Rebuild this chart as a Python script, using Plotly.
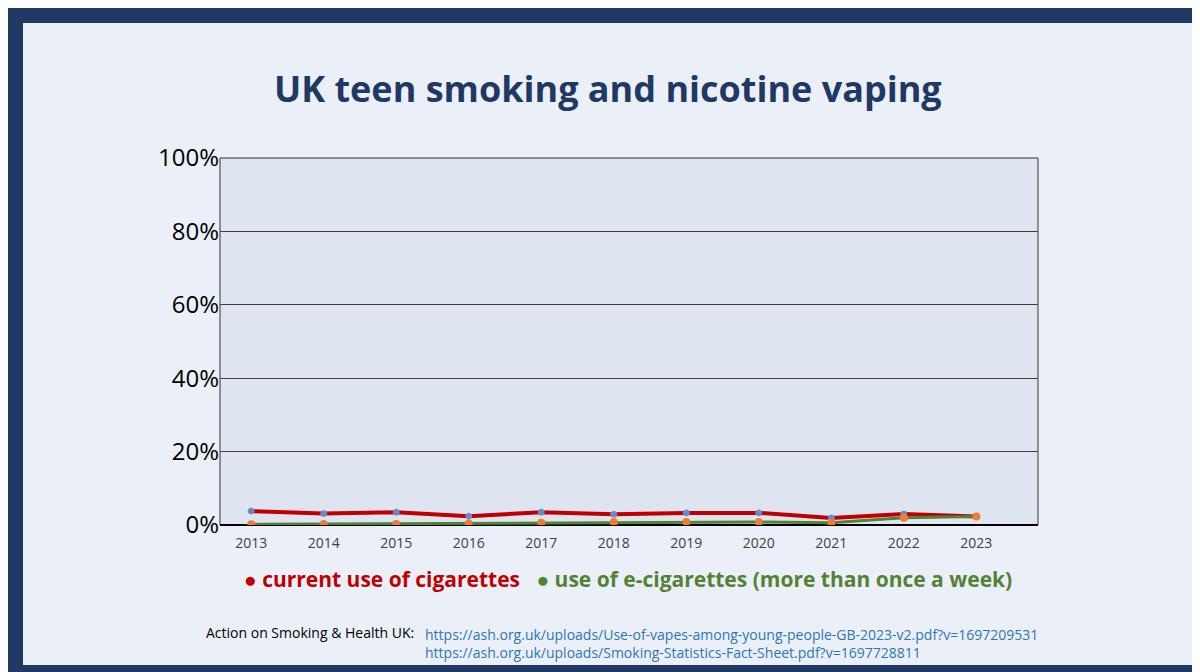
import plotly.graph_objects as go

years = list(range(2013, 2024))
cigarettes = [3.8, 3.1, 3.5, 2.4, 3.5, 2.9, 3.3, 3.3, 1.9, 3.0, 2.3]
ecigs = [0.2, 0.3, 0.3, 0.4, 0.6, 0.8, 0.8, 0.8, 0.6, 2.0, 2.3]
y_ticks = [0, 20, 40, 60, 80, 100]

W, H = 1200, 672
L, R, T, B = 212, 1030, 150, 517


def px_x(p):
    return (p - L) / (R - L)


def px_y(p):
    return (B - p) / (B - T)


fig = go.Figure()
fig.add_trace(go.Scatter(x=years, y=cigarettes, mode="lines+markers",
                         line=dict(color="#C00000", width=4),
                         marker=dict(color="#7F7FBF", size=6, line=dict(color="#5B9BD5", width=1)),
                         showlegend=False))
fig.add_trace(go.Scatter(x=years, y=ecigs, mode="lines+markers",
                         line=dict(color="#548235", width=3),
                         marker=dict(color="#ED7D31", size=8),
                         showlegend=False))

shapes = [
    dict(type="rect", xref="paper", yref="paper", layer="below",
         x0=px_x(15), x1=px_x(1185), y0=px_y(657), y1=px_y(15),
         fillcolor="#EBF0F8", line=dict(width=0)),
    dict(type="rect", xref="paper", yref="paper", layer="below",
         x0=0, x1=1, y0=0, y1=1, fillcolor="#DEE5F0", line=dict(color="#333333", width=1)),
]

annotations = [
    dict(text="<b>UK teen smoking and nicotine vaping</b>", x=px_x(600), y=px_y(80),
         xref="paper", yref="paper", showarrow=False, xanchor="center", yanchor="middle",
         font=dict(family="Open Sans", size=36, color="#1F3864")),
    dict(text="<b><span style='color:#C00000'>● current use of cigarettes</span>   "
              "<span style='color:#548235'>● use of e-cigarettes (more than once a week)</span></b>",
         x=px_x(620), y=px_y(571), xref="paper", yref="paper", showarrow=False,
         xanchor="center", yanchor="middle", font=dict(family="Open Sans", size=21)),
    dict(text="Action on Smoking & Health UK:", x=px_x(408), y=px_y(624), xref="paper", yref="paper",
         showarrow=False, xanchor="right", yanchor="middle",
         font=dict(family="Open Sans", size=14, color="#000000")),
    dict(text="https://ash.org.uk/uploads/Use-of-vapes-among-young-people-GB-2023-v2.pdf?v=1697209531<br>"
              "https://ash.org.uk/uploads/Smoking-Statistics-Fact-Sheet.pdf?v=1697728811",
         x=px_x(415), y=px_y(635), xref="paper", yref="paper", showarrow=False, align="left",
         xanchor="left", yanchor="middle",
         font=dict(family="Open Sans", size=14, color="#2E75B6")),
]

fig.update_layout(
    width=W, height=H,
    margin=dict(l=L, r=W - R, t=T, b=H - B),
    paper_bgcolor="#1F3864", plot_bgcolor="rgba(0,0,0,0)",
    shapes=shapes, annotations=annotations,
    xaxis=dict(range=[2012.57, 2023.85], tickvals=years, showgrid=False, zeroline=False,
               tickfont=dict(family="Open Sans", size=14, color="#404040"),
               ticklabelstandoff=8),
    yaxis=dict(range=[0, 100], tickvals=y_ticks, ticktext=[f"{v}%" for v in y_ticks],
               showgrid=True, gridcolor="#404040", gridwidth=1, zeroline=True,
               zerolinecolor="#000000", zerolinewidth=2,
               tickfont=dict(family="Open Sans", size=24, color="#000000")),
)

fig.write_html("out.html")
